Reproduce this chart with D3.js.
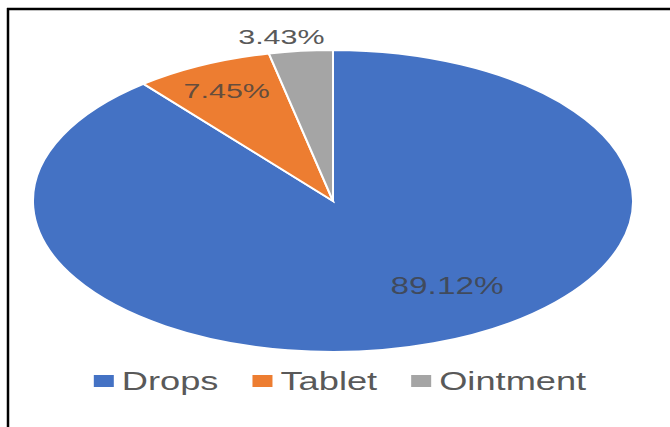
<!DOCTYPE html>
<html>
<head>
<meta charset="utf-8">
<script src="https://cdn.jsdelivr.net/npm/d3@7"></script>
<style>
  body { margin: 0; background: #fff; }
  text { font-family: "Liberation Sans", Arial, sans-serif; }
</style>
</head>
<body>
<div id="chart"></div>
<script>
const categories = ['Drops', 'Tablet', 'Ointment']
const shares = [89.12, 7.45, 3.43]
const labels = ['89.12%', '7.45%', '3.43%']
const colors = ['#4472C4', '#ED7D31', '#A5A5A5']

const W = 670, H = 427
const cx = 333, cy = 201, rx = 300, ry = 151
const R = 100  // pie drawn as unit circle, then squashed into the ellipse
const stretch = 1.45 // the picture's text is stretched sideways

// where each label sits (radius fraction, optional angle in degrees)
const labelPlace = [
  { r: 0.68, a: 146, size: 23, fill: '#404040', op: 0.8 },
  { r: 0.815, size: 21, fill: '#404040', op: 0.8 },
  { r: 1.1, a: -9, size: 21, fill: '#595959', op: 1 }
]

const svg = d3.select('#chart').append('svg')
  .attr('width', W)
  .attr('height', H)

// frame (only the top and left edges show)
svg.append('line').attr('x1', 7).attr('x2', W).attr('y1', 9).attr('y2', 9)
  .attr('stroke', '#000').attr('stroke-width', 2.5)
svg.append('line').attr('x1', 8).attr('x2', 8).attr('y1', 8).attr('y2', H)
  .attr('stroke', '#000').attr('stroke-width', 2.5)

const pie = d3.pie().sort(null).value(d => d)
const arcs = pie(shares)
const arc = d3.arc().innerRadius(0).outerRadius(R)

const g = svg.append('g')
  .attr('transform', `translate(${cx},${cy}) scale(${rx / R},${ry / R})`)

g.selectAll('path')
  .data(arcs)
  .join('path')
  .attr('d', arc)
  .attr('fill', (d, i) => colors[i])
  .attr('stroke', '#fff')
  .attr('stroke-width', 2)
  .attr('vector-effect', 'non-scaling-stroke')

arcs.forEach((d, i) => {
  const p = labelPlace[i]
  const ang = p.a !== undefined ? p.a * Math.PI / 180 : (d.startAngle + d.endAngle) / 2
  const x = cx + Math.sin(ang) * p.r * rx
  const y = cy - Math.cos(ang) * p.r * ry
  svg.append('text')
    .attr('transform', `translate(${x},${y}) scale(${stretch},1)`)
    .attr('text-anchor', 'middle')
    .attr('dy', '0.35em')
    .attr('font-size', p.size)
    .attr('fill', p.fill)
    .attr('fill-opacity', p.op)
    .text(labels[i])
})

// legend
const legend = svg.append('g')
let lx = 0
categories.forEach((c, i) => {
  const it = legend.append('g')
  it.append('rect')
    .attr('x', 0).attr('y', -15)
    .attr('width', 20).attr('height', 12)
    .attr('fill', colors[i])
  const t = it.append('text')
    .attr('transform', `translate(28,0) scale(${stretch},1)`)
    .attr('font-size', 25)
    .attr('fill', '#595959')
    .text(c)
  const w = 28 + t.node().getComputedTextLength() * stretch
  it.attr('transform', `translate(${lx},0)`)
  lx += w + 34
})
const total = lx - 34
legend.attr('transform', `translate(${340 - total / 2},390)`)
</script>
</body>
</html>
